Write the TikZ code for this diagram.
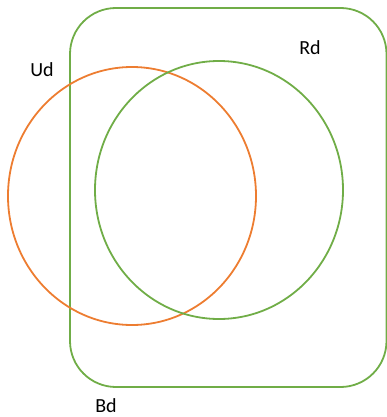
\documentclass[tikz,border=0pt]{standalone}
\usepackage{fontspec}
\setmainfont{Carlito}
\usetikzlibrary{shapes.geometric}
\tikzset{
  setline/.style={line width=1.8pt},
  setlbl/.style={font=\fontsize{20}{23}\selectfont, inner sep=0pt},
  venn/.style={ellipse, draw, setline, inner sep=0pt, minimum width=248pt, minimum height=258pt},
  }
\definecolor{bdgreen}{HTML}{70AD47}
\definecolor{udorange}{HTML}{ED7D31}

\begin{document}
\begin{tikzpicture}[x=1pt,y=-1pt]
  \useasboundingbox (0,0) rectangle (386,417);

  % outer set Bd
  \draw[setline,color=bdgreen,rounded corners=46pt] (70,8) rectangle (386.5,387);

  % the two inner sets
  \node[venn,color=udorange] (ud) at (132,196) {};
  \node[venn,color=bdgreen]  (rd) at (219,190) {};

  % labels
  \node[setlbl] (udl) at (42,70)  {Ud};
  \node[setlbl] (rdl) at (310,48) {Rd};
  \node[setlbl] (bdl) at (106,406) {Bd};
\end{tikzpicture}
\end{document}
